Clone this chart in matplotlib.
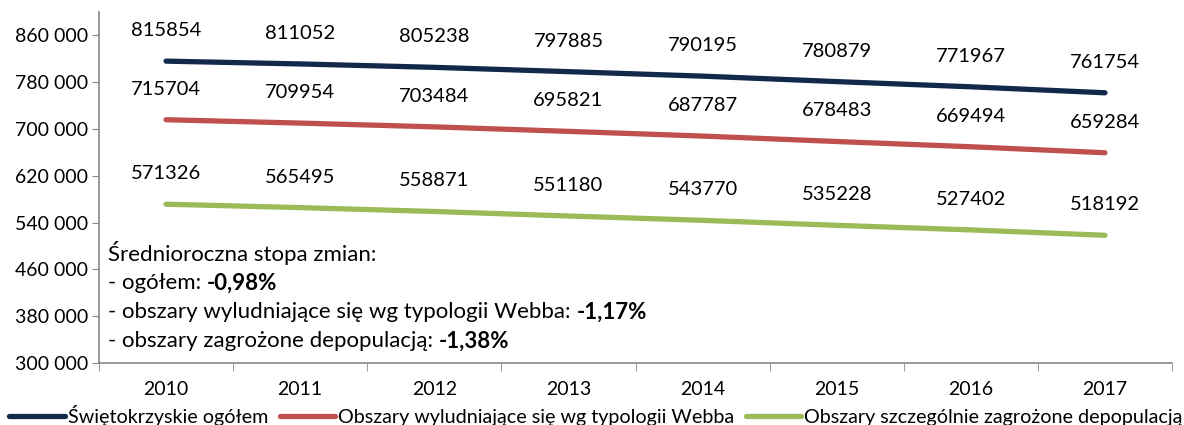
import numpy as np
import matplotlib
matplotlib.use('Agg')
import matplotlib.pyplot as plt
from matplotlib.ticker import FuncFormatter

plt.rcParams['font.family'] = ['Lato', 'DejaVu Sans']

years = ['2010', '2011', '2012', '2013', '2014', '2015', '2016', '2017']
ogolem = [815854, 811052, 805238, 797885, 790195, 780879, 771967, 761754]
webb = [715704, 709954, 703484, 695821, 687787, 678483, 669494, 659284]
zagrozone = [571326, 565495, 558871, 551180, 543770, 535228, 527402, 518192]
names = ['Świętokrzyskie ogółem', 'Obszary wyludniające się wg typologii Webba',
         'Obszary szczególnie zagrożone depopulacją']
colors = ['#13294B', '#C0504D', '#9BBB59']

fig = plt.figure(figsize=(11.84, 4.25), dpi=100)
ax = fig.add_axes([0.0836, 0.146, 0.9063, 0.826])

x = np.arange(len(years))
for vals, name, c in zip([ogolem, webb, zagrozone], names, colors):
    ax.plot(x, vals, color=c, lw=3.8, solid_capstyle='round', label=name)
    for xi, v in zip(x, vals):
        ax.annotate(str(v), (xi, v), xytext=(0, 22), textcoords='offset points',
                    ha='center', va='center', fontsize=14.5)

ax.set_xlim(-0.5, len(years) - 0.5)
ax.set_ylim(300000, 900000)
ax.set_yticks(np.arange(300000, 860001, 80000))
ax.yaxis.set_major_formatter(FuncFormatter(lambda v, p: '{:,.0f}'.format(v).replace(',', ' ')))
ax.set_xticks(x)
ax.set_xticklabels(years)
ax.set_xticks(np.arange(-0.5, len(years)), minor=True)
ax.tick_params(axis='x', which='major', length=0, pad=13, labelsize=14)
ax.tick_params(axis='x', which='minor', length=6, color='#868686')
ax.tick_params(axis='y', length=5, color='#868686', labelsize=14, pad=3)

for s in ['top', 'right']:
    ax.spines[s].set_visible(False)
for s in ['left', 'bottom']:
    ax.spines[s].set_color('#868686')
    ax.spines[s].set_linewidth(1.2)

# text box with average annual change rate
lines = [('Średnioroczna stopa zmian:', ''),
         ('- ogółem: ', '-0,98%'),
         ('- obszary wyludniające się wg typologii Webba: ', '-1,17%'),
         ('- obszary zagrożone depopulacją: ', '-1,38%')]
ys = [253, 283, 312, 341]
for (plain, bold), yp in zip(lines, ys):
    t = fig.text(108 / 1184, 1 - yp / 425, plain, fontsize=16, va='center', ha='left')
    if bold:
        ax.annotate(bold, xy=(1, 0.5), xycoords=t, va='center', ha='left',
                    fontsize=16, fontweight='bold')

fig.legend(loc='center left', bbox_to_anchor=(0.008, 1 - 415 / 425), ncol=3,
           frameon=False, fontsize=14.2, handlelength=2.8, handletextpad=0.15,
           columnspacing=0.6, borderaxespad=0, borderpad=0)

fig.savefig('out.png', dpi=100)
